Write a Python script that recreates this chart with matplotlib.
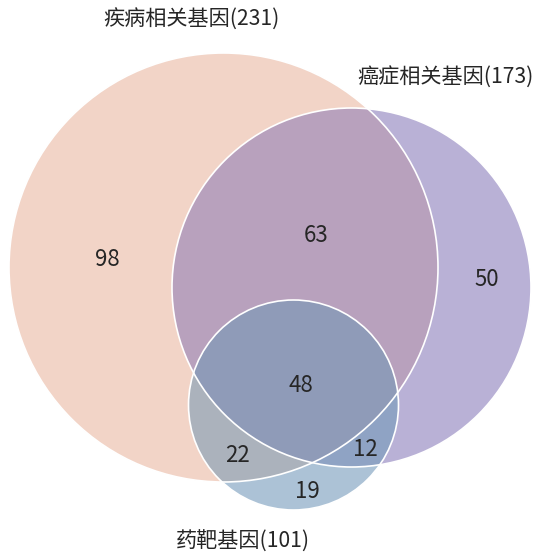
import numpy as np
import matplotlib
matplotlib.use("Agg")
import matplotlib.pyplot as plt
from matplotlib.patches import Circle, PathPatch
from matplotlib.path import Path

plt.rcParams['font.family'] = ['Noto Sans CJK SC', 'DejaVu Sans']

# sets and region counts
set_names = ['疾病相关基因', '癌症相关基因', '药靶基因']
set_sizes = [231, 173, 101]
region_keys = ['100', '110', '010', '111', '101', '011', '001']
region_counts = [98, 63, 50, 48, 22, 12, 19]

# layout (pixel space of the 535x557 canvas)
centers = [(223.5, 267.5), (351.5, 287.5), (293.5, 405.0)]
radii = [214.5, 179.5, 105.0]
label_pos = [(192, 20, 'center'), (534, 77, 'right'), (243, 542, 'center')]
count_pos = {'100': (107, 259), '110': (316, 235), '010': (487, 279),
             '111': (301, 385), '101': (237, 455), '011': (365, 450),
             '001': (307, 491)}
colors = {'100': '#f2d4c7', '010': '#b9b1d6', '110': '#b8a1bd',
          '001': '#acc2d6', '101': '#abb2bc', '011': '#8fa3c4',
          '111': '#8f9bb8'}


def lens_path(c1, r1, c2, r2, n=200):
    c1 = np.array(c1); c2 = np.array(c2)
    d = np.linalg.norm(c2 - c1)
    a = (r1**2 - r2**2 + d**2) / (2 * d)
    phi = np.arctan2(*(c2 - c1)[::-1])
    alpha = np.arccos(a / r1)
    beta = np.arccos((d - a) / r2)
    t1 = np.linspace(phi - alpha, phi + alpha, n)
    arc1 = c1 + r1 * np.column_stack([np.cos(t1), np.sin(t1)])
    psi = phi + np.pi
    t2 = np.linspace(psi - beta, psi + beta, n)
    arc2 = c2 + r2 * np.column_stack([np.cos(t2), np.sin(t2)])
    if np.linalg.norm(arc2[0] - arc1[-1]) > np.linalg.norm(arc2[-1] - arc1[-1]):
        arc2 = arc2[::-1]
    pts = np.vstack([arc1, arc2, arc1[:1]])
    return Path(pts, closed=True)


fig = plt.figure(figsize=(5.35, 5.57), dpi=100)
ax = fig.add_axes([0, 0, 1, 1])
ax.set_xlim(0, 535)
ax.set_ylim(557, 0)
ax.set_aspect('equal')
ax.axis('off')


def circ(i, color, clip=None):
    p = Circle(centers[i], radii[i], facecolor=color, edgecolor='none')
    ax.add_patch(p)
    if clip is not None:
        p.set_clip_path(clip)
    return p


def clipper(i):
    c = Circle(centers[i], radii[i])
    c.set_transform(ax.transData)
    return c


circ(0, colors['100'])
circ(1, colors['010'])
circ(1, colors['110'], clipper(0))
circ(2, colors['001'])
circ(2, colors['101'], clipper(0))
circ(2, colors['011'], clipper(1))
lens = PathPatch(lens_path(centers[0], radii[0], centers[1], radii[1]))
lens.set_transform(ax.transData)
circ(2, colors['111'], lens)

for c, r in zip(centers, radii):
    ax.add_patch(Circle(c, r, facecolor='none', edgecolor='white', linewidth=1.2))

for name, size, (x, y, ha) in zip(set_names, set_sizes, label_pos):
    ax.text(x, y, f'{name}({size})', ha=ha, va='center',
            fontsize=15.2, color='#262626')

for key, n in zip(region_keys, region_counts):
    x, y = count_pos[key]
    ax.text(x, y, str(n), ha='center', va='center', fontsize=16, color='#262626')

fig.savefig('out.png', dpi=100)
